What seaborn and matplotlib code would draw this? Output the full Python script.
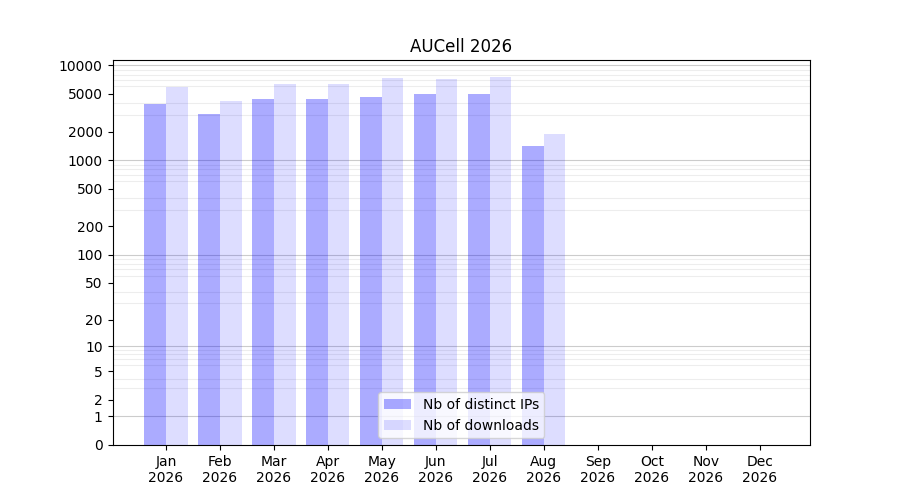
import pandas as pd
import numpy as np
import matplotlib
matplotlib.use("Agg")
import matplotlib.pyplot as plt
import seaborn as sns

months = ["Jan", "Feb", "Mar", "Apr", "May", "Jun", "Jul", "Aug", "Sep", "Oct", "Nov", "Dec"]
year = "2026"
distinct_ips = [3875, 3040, 4375, 4380, 4595, 4940, 4940, 1431, 0, 0, 0, 0]
downloads = [5860, 4170, 6300, 6300, 7290, 7115, 7470, 1870, 0, 0, 0, 0]
series_names = ["Nb of distinct IPs", "Nb of downloads"]
yticks = [0, 1, 2, 5, 10, 20, 50, 100, 200, 500, 1000, 2000, 5000, 10000]

labels = [m + "\n" + year for m in months]
df = pd.DataFrame({
    "month": labels * 2,
    "count": distinct_ips + downloads,
    "series": [series_names[0]] * 12 + [series_names[1]] * 12,
})

fig, ax = plt.subplots(figsize=(9, 5), dpi=100)

ax.set_yscale("function", functions=(lambda v: np.log10(np.clip(v, 0, None) + 1),
                                     lambda v: 10 ** v - 1))

sns.barplot(data=df, x="month", y="count", hue="series", order=labels,
            hue_order=series_names, errorbar=None, width=0.8, saturation=1,
            legend=False, ax=ax)

colors = [(0, 0, 1, 0.33), (0, 0, 1, 0.135)]
for cont, col in zip(ax.containers, colors):
    for bar in cont:
        bar.set_facecolor(col)
        bar.set_edgecolor("none")

ax.set_ylim(0, 11400)
ax.set_xlim(-0.99, 11.93)
ax.set_yticks(yticks)
ax.set_yticklabels([str(t) for t in yticks])

minor = [k * 10 ** n for n in range(0, 4) for k in range(2, 10)]
ax.set_yticks(minor, minor=True)
ax.tick_params(axis="y", which="minor", length=0)
ax.grid(axis="y", which="minor", color="#000000", alpha=0.07, linewidth=0.8)
for d in [1, 10, 100, 1000, 10000]:
    ax.axhline(d, color="#000000", alpha=0.2, linewidth=0.8, zorder=0.5)
ax.set_axisbelow(True)

ax.set_xlabel("")
ax.set_ylabel("")
ax.set_title("AUCell 2026")
ax.legend(ax.containers, series_names, loc="lower center")

fig.savefig("out.png", dpi=100)
